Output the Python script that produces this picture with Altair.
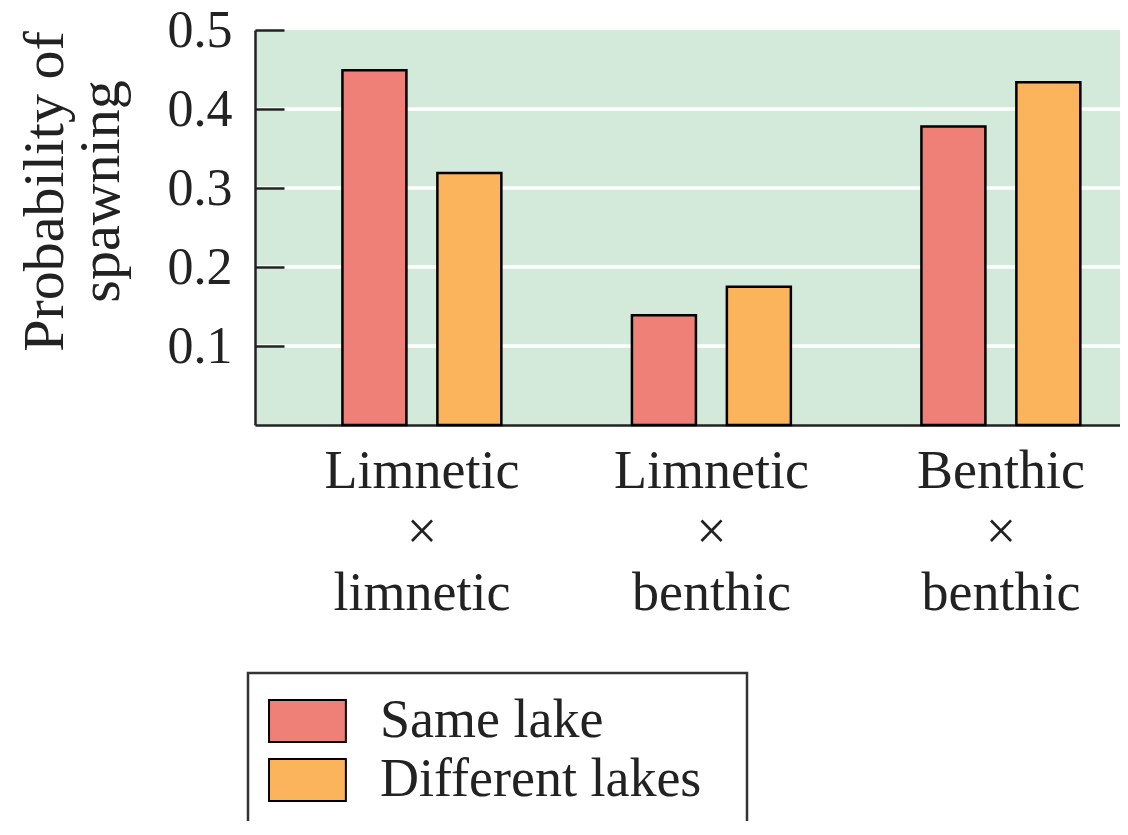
import altair as alt
import pandas as pd

# ---- data ----
crosses = ["Limnetic\n×\nlimnetic", "Limnetic\n×\nbenthic", "Benthic\n×\nbenthic"]
groups = ["Same lake", "Different lakes"]
same_lake = [0.449, 0.139, 0.378]
different_lakes = [0.319, 0.175, 0.434]
y_ticks = [0.1, 0.2, 0.3, 0.4, 0.5]
grid_values = [0.1, 0.2, 0.3, 0.4]
colors = ["#ee8077", "#fbb45b"]

rows = []
for c, s, d in zip(crosses, same_lake, different_lakes):
    rows.append({"cross": c, "lake": groups[0], "p": s})
    rows.append({"cross": c, "lake": groups[1], "p": d})
df = pd.DataFrame(rows)
grid_df = pd.DataFrame({"p": grid_values})

FONT = "Liberation Serif"
INK = "#222222"

y_scale = alt.Scale(domain=[0, 0.5], nice=False, zero=True)
y_axis = alt.Axis(
    values=y_ticks, format=".1f",
    labelFont=FONT, labelFontSize=52, labelColor=INK, labelPadding=23,
    ticks=False, tickSize=0,
    domain=True, domainColor=INK, domainWidth=2.5,
    grid=True, gridColor=INK, gridWidth=2.5, gridDash=[29, 3000],
    zindex=1,
    title=["Probability of", "spawning"],
    titleFont=FONT, titleFontSize=58, titleFontWeight="normal", titleColor=INK,
    titleLineHeight=56, titleX=-193, titleY=161, titleAlign="center",
    titleBaseline="alphabetic", titleAngle=270,
)
y_enc = alt.Y("p:Q", scale=y_scale, axis=y_axis)

grid = alt.Chart(grid_df).mark_rule(color="white", strokeWidth=3.5).encode(y=y_enc)

bars = alt.Chart(df).mark_bar(stroke="black", strokeWidth=2.5).encode(
    x=alt.X(
        "cross:N",
        scale=alt.Scale(domain=crosses, paddingInner=0.451, paddingOuter=0.2195, align=0.688),
        axis=alt.Axis(
            title=None, labelExpr="split(datum.label, '\\n')",
            labelFont=FONT, labelFontSize=54, labelLineHeight=61, labelColor=INK,
            labelPadding=19, labelAngle=0, labelLimit=600,
            ticks=False, tickSize=0,
            domainColor=INK, domainWidth=2.5,
        ),
    ),
    xOffset=alt.XOffset("lake:N", scale=alt.Scale(domain=groups, paddingInner=0.326, paddingOuter=0)),
    y=y_enc,
    color=alt.Color(
        "lake:N",
        scale=alt.Scale(domain=groups, range=colors),
        legend=alt.Legend(
            title=None, orient="none", legendX=-7, legendY=643, direction="vertical",
            symbolType="M-0.93,-0.72H1.72V0.72H-0.93Z", symbolSize=3364,
            symbolStrokeColor="black", symbolStrokeWidth=2, symbolOpacity=1,
            labelFont=FONT, labelFontSize=54, labelColor=INK, labelOffset=54,
            labelExpr="datum.label + '\u00a0\u00a0\u200b'",
            labelLimit=600, rowPadding=2, padding=18, strokeColor="#333333",
        ),
    ),
)

chart = (
    alt.layer(grid, bars)
    .properties(
        width=865, height=395,
        autosize=alt.AutoSizeParams(type="none"),
        padding={"left": 247, "top": 22, "right": 0, "bottom": 396},
        background="white",
    )
    .configure_view(fill="#d3e9da", stroke=None)
    .configure_legend(strokeWidth=2.5)
)

chart.save("out.html", embed_options={"renderer": "svg", "actions": False})
